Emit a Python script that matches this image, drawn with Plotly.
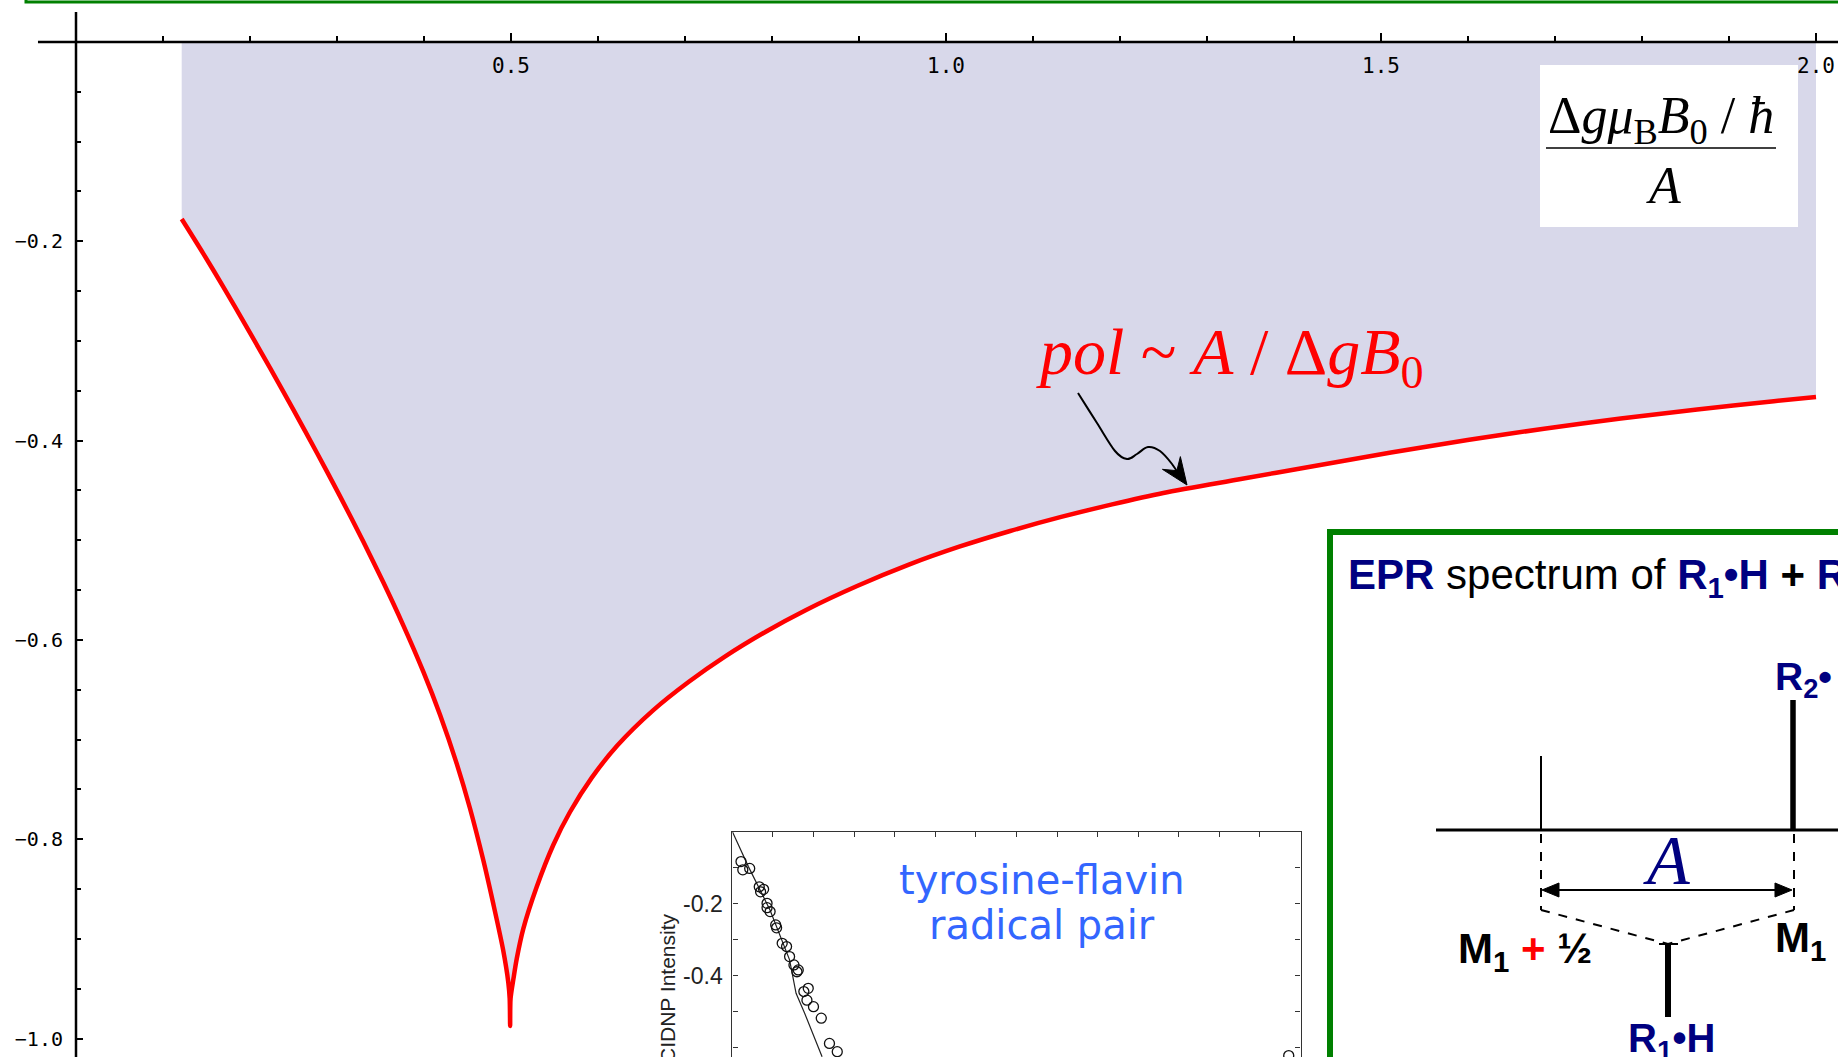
import math
import plotly.graph_objects as go

W, H = 1838, 1057

# ---------------- data ----------------
# main curve: polarization vs  (Δg μB B0/ħ)/A   (left branch, cusp, right branch)
curve_x = [0.1215, 0.1463, 0.1693, 0.1962, 0.2230, 0.2498, 0.2767, 0.3034, 0.3302,
           0.3532, 0.3762, 0.3992, 0.4184, 0.4376, 0.4529, 0.4682, 0.4797, 0.4911,
           0.4969, 0.4985, 0.4990,
           0.4995, 0.5030, 0.5066, 0.5141, 0.5295, 0.5486, 0.5678, 0.5929, 0.6222,
           0.6633, 0.7044, 0.7454, 0.7923, 0.8392, 0.8978, 0.9566, 1.0152, 1.0738,
           1.1324, 1.1910, 1.2498, 1.3356, 1.4236, 1.5115, 1.5995, 1.6874, 1.7755,
           1.8634, 1.9515, 2.0000]
curve_y = [-0.1776, -0.2123, -0.2457, -0.2861, -0.3271, -0.3689, -0.4119, -0.4557, -0.5013,
           -0.5422, -0.5854, -0.6319, -0.6751, -0.7241, -0.7692, -0.8212, -0.8651, -0.9118,
           -0.9437, -0.9600, -0.9875,
           -0.9600, -0.9390, -0.9200, -0.8900, -0.8480, -0.8058, -0.7727, -0.7382, -0.7060,
           -0.6707, -0.6420, -0.6170, -0.5920, -0.5699, -0.5459, -0.5247, -0.5065, -0.4907,
           -0.4766, -0.4640, -0.4525, -0.4390, -0.4255, -0.4120, -0.3994, -0.3881, -0.3779,
           -0.3688, -0.3605, -0.3562]

# inset (tyrosine-flavin radical pair): experimental points and simulated line
inset_pts_x = [0.212, 0.256, 0.426, 0.662, 0.695, 0.769, 0.854, 0.854, 0.929, 1.067,
               1.089, 1.227, 1.335, 1.409, 1.517, 1.591, 1.623, 1.761, 1.869, 1.837,
               1.998, 2.190, 2.392, 2.584, 13.71]
inset_pts_y = [-0.083, -0.106, -0.102, -0.153, -0.167, -0.160, -0.199, -0.211, -0.222, -0.259,
               -0.267, -0.310, -0.319, -0.347, -0.370, -0.389, -0.384, -0.444, -0.435, -0.468,
               -0.486, -0.518, -0.588, -0.611, -0.622]
inset_line_x = [0.0, 0.394, 0.929, 1.409, 1.569, 1.783, 2.210]
inset_line_y = [0.0, -0.097, -0.218, -0.356, -0.449, -0.505, -0.625]

main_xtick_vals = [0.5, 1.0, 1.5, 2.0]
main_xtick_text = ["0.5", "1.0", "1.5", "2.0"]
main_ytick_vals = [-0.2, -0.4, -0.6, -0.8, -1.0]
main_ytick_text = ["\u22120.2", "\u22120.4", "\u22120.6", "\u22120.8", "\u22121.0"]
inset_ytick_vals = [-0.2, -0.4, -0.6]
inset_ytick_text = ["-0.2", "-0.4", "-0.6"]

# ---------------- helpers (pixel -> paper) ----------------
def X(px):
    return px / W


def Y(py):
    return 1 - py / H


NAVY = "#000080"
GREEN = "#008000"
SANS = "Liberation Sans, Arial, sans-serif"
SERIF = "Liberation Serif, Times New Roman, serif"

fig = go.Figure()

# baseline at zero for the filling
fig.add_trace(go.Scatter(x=[curve_x[0], curve_x[-1]], y=[0, 0], mode="lines",
                         line=dict(width=0, color="rgba(0,0,0,0)"), hoverinfo="skip",
                         xaxis="x", yaxis="y"))
fig.add_trace(go.Scatter(x=curve_x, y=curve_y, mode="lines", fill="tonexty",
                         fillcolor="#d8d8ea",
                         line=dict(color="#ff0000", width=4.5, shape="spline", smoothing=0.8),
                         xaxis="x", yaxis="y"))

# inset traces
fig.add_trace(go.Scatter(x=inset_line_x, y=inset_line_y, mode="lines",
                         line=dict(color="#222", width=1.2), xaxis="x2", yaxis="y2"))
fig.add_trace(go.Scatter(x=inset_pts_x, y=inset_pts_y, mode="markers",
                         marker=dict(symbol="circle-open", size=10, color="#111",
                                     line=dict(width=1.3, color="#111")),
                         xaxis="x2", yaxis="y2"))

shapes = []
# main axis lines (data coordinates)
shapes.append(dict(type="line", xref="x", yref="y", x0=-0.0437, x1=2.1, y0=0, y1=0,
                   line=dict(color="black", width=2.5), layer="above"))
shapes.append(dict(type="line", xref="x", yref="y", x0=0, x1=0, y0=0.030, y1=-1.1,
                   line=dict(color="black", width=2.5), layer="above"))

# green frame above (bottom edge of previous box)
shapes.append(dict(type="rect", xref="paper", yref="paper", x0=X(26), x1=X(1950),
                   y0=Y(2), y1=Y(-60), line=dict(color=GREEN, width=3), layer="above"))

# white box for the axis label fraction
shapes.append(dict(type="rect", xref="paper", yref="paper", x0=X(1540), x1=X(1798),
                   y0=Y(227), y1=Y(65), fillcolor="white", line=dict(width=0), layer="above"))
shapes.append(dict(type="line", xref="paper", yref="paper", x0=X(1546), x1=X(1776),
                   y0=Y(148), y1=Y(148), line=dict(color="black", width=1.6), layer="above"))


def head(tip, frm, length, half, notch=0.0):
    """filled arrowhead path (pixel geometry converted to paper)"""
    dx, dy = tip[0] - frm[0], tip[1] - frm[1]
    n = math.hypot(dx, dy)
    ux, uy = dx / n, dy / n
    px_, py_ = -uy, ux
    bx, by = tip[0] - ux * length, tip[1] - uy * length
    w1 = (bx + px_ * half, by + py_ * half)
    w2 = (bx - px_ * half, by - py_ * half)
    nt = (bx + ux * length * notch, by + uy * length * notch)
    pts = [tip, w1, nt, w2]
    path = "M " + " L ".join("{:.5f},{:.5f}".format(X(a), Y(b)) for a, b in pts) + " Z"
    return dict(type="path", xref="paper", yref="paper", path=path, fillcolor="black",
                line=dict(color="black", width=1), layer="above")


# curvy arrow pointing at the curve
arrow_pts = [(1078, 393), (1097, 423), (1115, 451), (1127, 459), (1137, 454),
             (1148, 447), (1160, 451), (1172, 464), (1181, 478)]
d = "M {:.5f},{:.5f}".format(X(arrow_pts[0][0]), Y(arrow_pts[0][1]))
for i in range(len(arrow_pts) - 1):
    p0 = arrow_pts[i - 1] if i > 0 else arrow_pts[i]
    p1 = arrow_pts[i]
    p2 = arrow_pts[i + 1]
    p3 = arrow_pts[i + 2] if i + 2 < len(arrow_pts) else arrow_pts[i + 1]
    c1 = (p1[0] + (p2[0] - p0[0]) / 6, p1[1] + (p2[1] - p0[1]) / 6)
    c2 = (p2[0] - (p3[0] - p1[0]) / 6, p2[1] - (p3[1] - p1[1]) / 6)
    d += " C {:.5f},{:.5f} {:.5f},{:.5f} {:.5f},{:.5f}".format(
        X(c1[0]), Y(c1[1]), X(c2[0]), Y(c2[1]), X(p2[0]), Y(p2[1]))
shapes.append(dict(type="path", xref="paper", yref="paper", path=d,
                   line=dict(color="black", width=2), layer="above"))
shapes.append(head((1187, 485), (1170, 461), 27, 11, notch=0.35))

# EPR box
shapes.append(dict(type="rect", xref="paper", yref="paper", x0=X(1330), x1=X(1990),
                   y0=Y(1200), y1=Y(532), fillcolor="white",
                   line=dict(color=GREEN, width=6), layer="above"))
# EPR stick spectrum
shapes.append(dict(type="line", xref="paper", yref="paper", x0=X(1436), x1=X(1900),
                   y0=Y(830), y1=Y(830), line=dict(color="black", width=3), layer="above"))
shapes.append(dict(type="line", xref="paper", yref="paper", x0=X(1541), x1=X(1541),
                   y0=Y(756), y1=Y(830), line=dict(color="black", width=2), layer="above"))
shapes.append(dict(type="line", xref="paper", yref="paper", x0=X(1793), x1=X(1793),
                   y0=Y(700), y1=Y(830), line=dict(color="black", width=5.5), layer="above"))
for xp in (1541, 1794):
    shapes.append(dict(type="line", xref="paper", yref="paper", x0=X(xp), x1=X(xp),
                       y0=Y(834), y1=Y(910), line=dict(color="black", width=2, dash="dash"),
                       layer="above"))
    shapes.append(dict(type="line", xref="paper", yref="paper", x0=X(xp), x1=X(1668),
                       y0=Y(910), y1=Y(944), line=dict(color="black", width=2, dash="dash"),
                       layer="above"))
shapes.append(dict(type="line", xref="paper", yref="paper", x0=X(1668), x1=X(1668),
                   y0=Y(944), y1=Y(1017), line=dict(color="black", width=6), layer="above"))
shapes.append(dict(type="line", xref="paper", yref="paper", x0=X(1659), x1=X(1678),
                   y0=Y(944), y1=Y(944), line=dict(color="black", width=2), layer="above"))
# double arrow of width A
shapes.append(dict(type="line", xref="paper", yref="paper", x0=X(1550), x1=X(1784),
                   y0=Y(890), y1=Y(890), line=dict(color="black", width=2), layer="above"))
shapes.append(head((1542, 890), (1600, 890), 17, 7))
shapes.append(head((1792, 890), (1700, 890), 17, 7))

ann = []


def text(px, py, s, size, color="black", family=SANS, xanchor="center", angle=0):
    ann.append(dict(x=X(px), y=Y(py), xref="paper", yref="paper", text=s, showarrow=False,
                    xanchor=xanchor, yanchor="middle", textangle=angle,
                    font=dict(family=family, size=size, color=color)))


# fraction label
text(1661, 119, "Δ<i>gμ</i><sub>B</sub><i>B</i><sub>0</sub> / <i>ħ</i>", 52, family=SERIF)
text(1663, 185, "<i>A</i>", 52, family=SERIF)
# polarization annotation
text(1230, 357, "<i>pol</i> ~ <i>A</i> / Δ<i>gB</i><sub>0</sub>", 66, color="#ff0000",
     family=SERIF)

# inset texts
text(1042, 880, "tyrosine-flavin", 40, color="#3366ff", family="DejaVu Sans")
text(1042, 925, "radical pair", 40, color="#3366ff", family="DejaVu Sans")
text(667, 988, "CIDNP Intensity", 21, color="#222", angle=-90)

# EPR texts
text(1346, 577,
     '<span style="color:#000080"><b>EPR</b></span> spectrum of '
     '<span style="color:#000080"><b>R<sub>1</sub>•H</b></span> <b>+</b> '
     '<span style="color:#000080"><b>R<sub>2</sub>•</b></span>', 42, xanchor="left")
text(1773, 679, "<b>R<sub>2</sub>•</b>", 39, color=NAVY, xanchor="left")
text(1456, 951, '<b>M<sub>1</sub> <span style="color:#ff0000">+</span> ½</b>', 42,
     xanchor="left")
text(1773, 940, '<b>M<sub>1</sub> <span style="color:#ff0000">−</span> ½</b>', 42,
     xanchor="left")
text(1626, 1041, "<b>R<sub>1</sub>•H</b>", 40, color=NAVY, xanchor="left")
text(1666, 860, "<i>A</i>", 70, color=NAVY, family=SERIF)

fig.update_layout(
    width=W, height=H, margin=dict(l=0, r=0, t=0, b=0), autosize=False,
    paper_bgcolor="white", plot_bgcolor="white", showlegend=False,
    xaxis=dict(domain=[0, 1], range=[-0.087356, 2.025287], anchor="free",
               position=1 - 42 / H, side="bottom", showline=False, showgrid=False,
               zeroline=False, ticks="inside", ticklen=9, tickwidth=1.6, tickcolor="black",
               tickmode="array", tickvals=main_xtick_vals, ticktext=main_xtick_text,
               tickfont=dict(family="DejaVu Sans Mono, monospace", size=21, color="black"),
               ticklabelstandoff=9,
               minor=dict(ticks="inside", ticklen=6, tickwidth=1.6, tickcolor="black",
                          tickmode="linear", tick0=0, dtick=0.1, showgrid=False)),
    yaxis=dict(domain=[0, 1], range=[-1.018565, 0.042147], anchor="free",
               position=76 / W, side="left", showline=False, showgrid=False,
               zeroline=False, ticks="inside", ticklen=6, tickwidth=1.6, tickcolor="black",
               tickmode="array", tickvals=main_ytick_vals, ticktext=main_ytick_text,
               tickfont=dict(family="DejaVu Sans Mono, monospace", size=20, color="black"),
               ticklabelstandoff=13,
               minor=dict(ticks="inside", ticklen=4, tickwidth=1.6, tickcolor="black",
                          tickmode="linear", tick0=0, dtick=0.05, showgrid=False)),
    xaxis2=dict(domain=[732.4 / W, 1300.5 / W], range=[0, 14], anchor="y2", side="top",
                showline=True, linecolor="#333", linewidth=1.2, mirror=False,
                ticks="inside", ticklen=5, tickcolor="#333", tickmode="linear",
                tick0=0, dtick=1, showticklabels=False, showgrid=False,
                zeroline=False),
    yaxis2=dict(domain=[0, 1 - 831.7 / H], range=[-0.62583, 0], anchor="x2",
                showline=True, linecolor="#333", linewidth=1.2, mirror="ticks",
                ticks="inside", ticklen=5, tickcolor="#333", tickmode="array",
                tickvals=inset_ytick_vals, ticktext=inset_ytick_text,
                tickfont=dict(family=SANS, size=23, color="#222"), ticklabelstandoff=4,
                minor=dict(ticks="inside", ticklen=5, tickcolor="#333",
                           tickmode="linear", tick0=0, dtick=0.1, showgrid=False),
                showgrid=False, zeroline=False),
    shapes=shapes, annotations=ann,
)

fig.write_html("out.html")
